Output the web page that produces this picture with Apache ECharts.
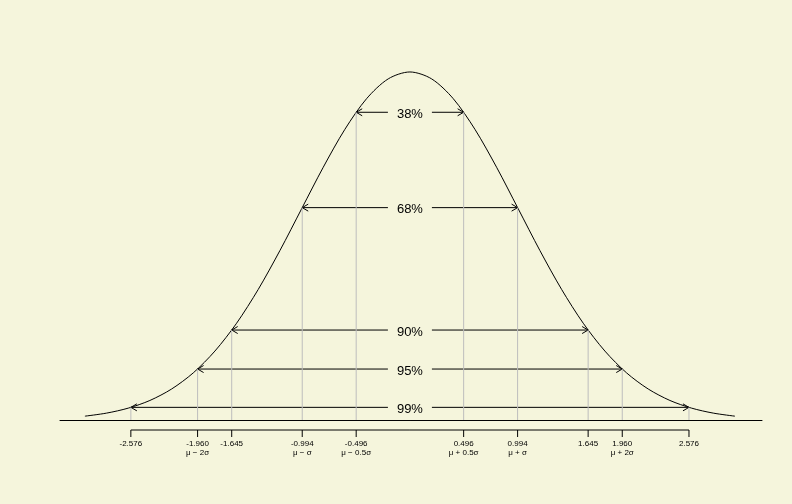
<!DOCTYPE html>
<html>
<head>
<meta charset="utf-8">
<script src="https://cdn.jsdelivr.net/npm/echarts@6/dist/echarts.min.js"></script>
<style>
html, body { margin: 0; padding: 0; background: #f5f5dc; }
#chart { width: 792px; height: 504px; }
</style>
</head>
<body>
<div id="chart"></div>
<script>
// density curve
var curveX = [-3.0, -2.8, -2.6, -2.4, -2.2, -2.0, -1.8, -1.6, -1.4, -1.2, -1.0, -0.8, -0.6, -0.4, -0.2, 0.0,
              0.2, 0.4, 0.6, 0.8, 1.0, 1.2, 1.4, 1.6, 1.8, 2.0, 2.2, 2.4, 2.6, 2.8, 3.0];
var curveY = [0.0044, 0.0079, 0.0136, 0.0224, 0.0355, 0.0540, 0.0790, 0.1109, 0.1497, 0.1942, 0.2420, 0.2897, 0.3332, 0.3683, 0.3910, 0.3989,
              0.3910, 0.3683, 0.3332, 0.2897, 0.2420, 0.1942, 0.1497, 0.1109, 0.0790, 0.0540, 0.0355, 0.0224, 0.0136, 0.0079, 0.0044];

// interval bounds, their heights and labels
var cutValues = [0.496, 0.994, 1.645, 1.960, 2.576];
var cutHeights = [0.3527, 0.2434, 0.1031, 0.0584, 0.0145];
var cutLabels = ['38%', '68%', '90%', '95%', '99%'];

// lower axis
var tickValues = [-2.576, -1.960, -1.645, -0.994, -0.496, 0.496, 0.994, 1.645, 1.960, 2.576];
var tickLabels = ['-2.576', '-1.960', '-1.645', '-0.994', '-0.496', '0.496', '0.994', '1.645', '1.960', '2.576'];
var tickSubLabels = ['', 'μ − 2σ', '', 'μ − σ', 'μ − 0.5σ', 'μ + 0.5σ', 'μ + σ', '', 'μ + 2σ', ''];

var FONT = '"Liberation Sans", Arial, sans-serif';

var curveData = [];
for (var i = 0; i < curveX.length; i++) curveData.push([curveX[i], curveY[i]]);

var levelData = [];
for (var j = 0; j < cutValues.length; j++) levelData.push([cutValues[j], cutHeights[j], j]);

function arrowHead(tx, ty, dir) {
    // open chevron, dir = -1 points left, 1 points right
    return {
        type: 'polyline',
        shape: { points: [[tx - dir * 6, ty - 3.5], [tx, ty], [tx - dir * 6, ty + 3.5]] },
        style: { stroke: '#000', fill: null, lineWidth: 1 }
    };
}

function renderLevel(params, api) {
    var x = api.value(0), h = api.value(1), idx = api.value(2);
    var left = api.coord([-x, h]);
    var right = api.coord([x, h]);
    var base = api.coord([0, 0]);
    var mid = api.coord([0, h]);
    var y = left[1];
    var gap = 22;
    return {
        type: 'group',
        children: [
            { type: 'line', z2: 1, shape: { x1: left[0], y1: y, x2: left[0], y2: base[1] }, style: { stroke: '#bdbdbd', lineWidth: 1 } },
            { type: 'line', z2: 1, shape: { x1: right[0], y1: y, x2: right[0], y2: base[1] }, style: { stroke: '#bdbdbd', lineWidth: 1 } },
            { type: 'line', shape: { x1: mid[0] - gap, y1: y, x2: left[0], y2: y }, style: { stroke: '#000', lineWidth: 1 } },
            { type: 'line', shape: { x1: mid[0] + gap, y1: y, x2: right[0], y2: y }, style: { stroke: '#000', lineWidth: 1 } },
            arrowHead(left[0], y, -1),
            arrowHead(right[0], y, 1),
            { type: 'text', style: { text: cutLabels[idx], x: mid[0], y: y + 2, fill: '#000', font: '13px ' + FONT, align: 'center', verticalAlign: 'middle' } }
        ]
    };
}

function renderLowerAxis(params, api) {
    var base = api.coord([0, 0])[1];
    var lineY = base + 10;
    var first = api.coord([tickValues[0], 0])[0];
    var last = api.coord([tickValues[tickValues.length - 1], 0])[0];
    var children = [
        { type: 'line', shape: { x1: first, y1: lineY, x2: last, y2: lineY }, style: { stroke: '#000', lineWidth: 1 } }
    ];
    for (var k = 0; k < tickValues.length; k++) {
        var px = api.coord([tickValues[k], 0])[0];
        children.push({ type: 'line', shape: { x1: px, y1: lineY, x2: px, y2: lineY + 7 }, style: { stroke: '#000', lineWidth: 1 } });
        children.push({ type: 'text', style: { text: tickLabels[k], x: px, y: lineY + 14, fill: '#000', font: '8px ' + FONT, align: 'center', verticalAlign: 'middle' } });
        if (tickSubLabels[k]) {
            children.push({ type: 'text', style: { text: tickSubLabels[k], x: px, y: lineY + 23, fill: '#000', font: '8px ' + FONT, align: 'center', verticalAlign: 'middle' } });
        }
    }
    return { type: 'group', children: children };
}

var chart = echarts.init(document.getElementById('chart'));
chart.setOption({
    backgroundColor: '#f5f5dc',
    animation: false,
    grid: { left: 60, right: 30, top: 71, bottom: 84 },
    xAxis: {
        type: 'value',
        min: -3.23,
        max: 3.25,
        axisLine: { show: true, lineStyle: { color: '#000', width: 1 } },
        axisTick: { show: false },
        axisLabel: { show: false },
        splitLine: { show: false }
    },
    yAxis: {
        type: 'value',
        min: 0,
        max: 0.4,
        show: false
    },
    series: [
        {
            type: 'custom',
            name: 'levels',
            clip: false,
            z: 3,
            data: levelData,
            renderItem: renderLevel
        },
        {
            type: 'line',
            name: 'density',
            data: curveData,
            smooth: 0.3,
            showSymbol: false,
            z: 2,
            lineStyle: { color: '#000', width: 1 }
        },
        {
            type: 'custom',
            name: 'lowerAxis',
            clip: false,
            data: [[0, 0]],
            renderItem: renderLowerAxis
        }
    ]
});
</script>
</body>
</html>
